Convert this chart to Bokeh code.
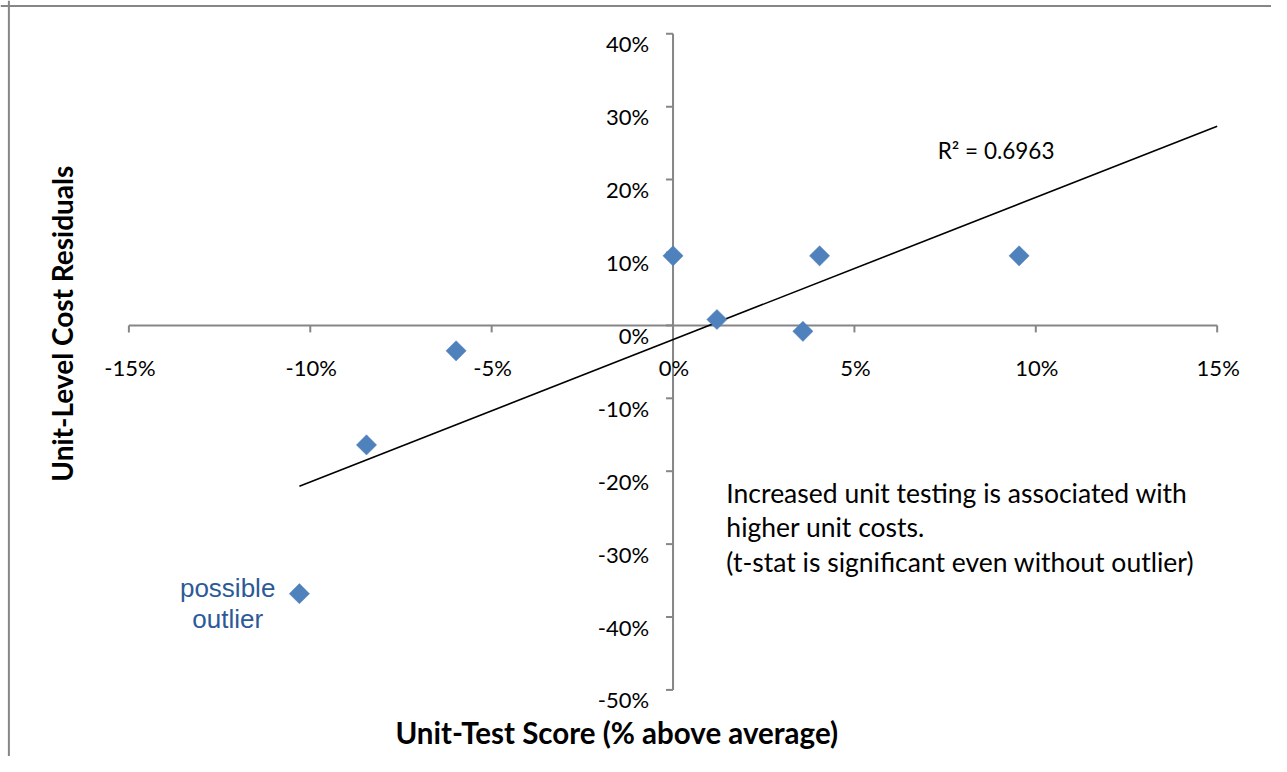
import numpy as np
from bokeh.plotting import figure
from bokeh.models import Range1d, Span, ColumnDataSource
from bokeh.core.properties import value
from bokeh.embed import file_html
from bokeh.resources import INLINE

# ---------------- data (fractions) ----------------
unit_test_score = [0.000, 0.0121, 0.0404, 0.0358, 0.0954, -0.0598, -0.0845, -0.1030]
cost_residuals = [0.0954, 0.0081, 0.0954, -0.0081, 0.0954, -0.0349, -0.1639, -0.3680]

x_ticks = [-0.15, -0.10, -0.05, 0.0, 0.05, 0.10, 0.15]
x_tick_labels = ["-15%", "-10%", "-5%", "0%", "5%", "10%", "15%"]
y_ticks = [-0.5, -0.4, -0.3, -0.2, -0.1, 0.0, 0.1, 0.2, 0.3, 0.4]
y_tick_labels = ["-50%", "-40%", "-30%", "-20%", "-10%", "0%", "10%", "20%", "30%", "40%"]

r2_label = "R\u00b2 = 0.6963"
note_lines = ["Increased unit testing is associated with",
              "higher unit costs.",
              "(t-stat is significant even without outlier)"]
outlier_lines = ["possible", "outlier"]
x_title = "Unit-Test Score (% above average)"
y_title = "Unit-Level Cost Residuals"

# ---------------- layout ----------------
W, H = 1271, 756
REF_W, REF_H = 1287, 772
KX, KY = W / REF_W, H / REF_H
X0PX, X1PX = 130, 1232   # reference px of -15% and 15%
Y0PX, Y1PX = 34, 704     # reference px of 40% and -50%
sx = (X1PX - X0PX) * KX / 0.30
sy = (Y1PX - Y0PX) * KY / 0.90
xs = -0.15 - X0PX * KX / sx
xe = xs + W / sx
ye = 0.40 + Y0PX * KY / sy
ys = ye - H / sy


def dx(px):
    return xs + px * KX / sx


def dy(py):
    return ye - py * KY / sy


FONT = value("Lato")
AXIS_COLOR = "#868686"

p = figure(width=W, height=H, x_range=Range1d(xs, xe), y_range=Range1d(ys, ye),
           output_backend="svg", toolbar_location=None, min_border=0,
           x_axis_type=None, y_axis_type=None)
p.outline_line_color = None
p.background_fill_color = "white"
p.border_fill_color = "white"

# chart area border (left and top)
p.add_layout(Span(location=dx(8.5), dimension="height", line_color=AXIS_COLOR, line_width=2))
p.add_layout(Span(location=dy(5.5), dimension="width", line_color=AXIS_COLOR, line_width=2))

# axes crossing at origin
p.segment(x0=[x_ticks[0]], y0=[0], x1=[x_ticks[-1]], y1=[0], line_color=AXIS_COLOR, line_width=2)
p.segment(x0=[0], y0=[y_ticks[0]], x1=[0], y1=[y_ticks[-1]], line_color=AXIS_COLOR, line_width=2)

tick_len = 7
p.segment(x0=x_ticks, y0=[0] * len(x_ticks), x1=x_ticks, y1=[-tick_len / sy] * len(x_ticks),
          line_color=AXIS_COLOR, line_width=2)
p.segment(x0=[0] * len(y_ticks), y0=y_ticks, x1=[-tick_len / sx] * len(y_ticks), y1=y_ticks,
          line_color=AXIS_COLOR, line_width=2)

# tick labels
p.text(x=x_ticks, y=[0] * len(x_ticks), text=x_tick_labels, x_offset=1, y_offset=42,
       text_align="center", text_baseline="alphabetic", text_font=FONT,
       text_font_size="22px", text_color="black")
p.text(x=[0] * len(y_ticks), y=y_ticks, text=y_tick_labels, x_offset=-24, y_offset=10,
       text_align="right", text_baseline="alphabetic", text_font=FONT,
       text_font_size="22px", text_color="black")

# trend line (least squares fit of the data)
xa = np.array(unit_test_score)
ya = np.array(cost_residuals)
slope, intercept = np.polyfit(xa, ya, 1)
fit_x = [xa.min(), x_ticks[-1]]
fit_y = [slope * v + intercept for v in fit_x]
p.line(fit_x, fit_y, line_color="black", line_width=1.6)

# points
src = ColumnDataSource(dict(x=unit_test_score, y=cost_residuals))
p.scatter("x", "y", source=src, marker="square", size=14.3, angle=np.pi / 4,
          fill_color="#4F81BD", line_color="#4F81BD", line_width=0.5)

# annotations
p.text(x=[dx(949)], y=[dy(153)], text=[r2_label], text_align="left", text_baseline="alphabetic",
       text_font=FONT, text_font_size="22.5px", text_color="black")
p.text(x=[dx(735)] * 3, y=[dy(503 + 35 * i) for i in range(3)], text=note_lines,
       text_align="left", text_baseline="alphabetic",
       text_font=FONT, text_font_size="26.5px", text_color="black")
p.text(x=[dx(230)] * 2, y=[dy(600 + 32 * i) for i in range(2)], text=outlier_lines,
       text_align="center", text_baseline="alphabetic",
       text_font=value("Liberation Sans"), text_font_size="26px", text_color="#2C5A96")

# axis titles
p.text(x=[dx(624)], y=[dy(747)], text=[x_title], text_align="center", text_baseline="alphabetic",
       text_font=FONT, text_font_style="bold", text_font_size="29.5px", text_color="black")
p.text(x=[dx(62)], y=[dy(330)], text=[y_title], angle=np.pi / 2, text_align="center",
       text_baseline="alphabetic", text_font=FONT, text_font_style="bold",
       text_font_size="28px", text_color="black")

open("out.html", "w").write(file_html(p, INLINE))
